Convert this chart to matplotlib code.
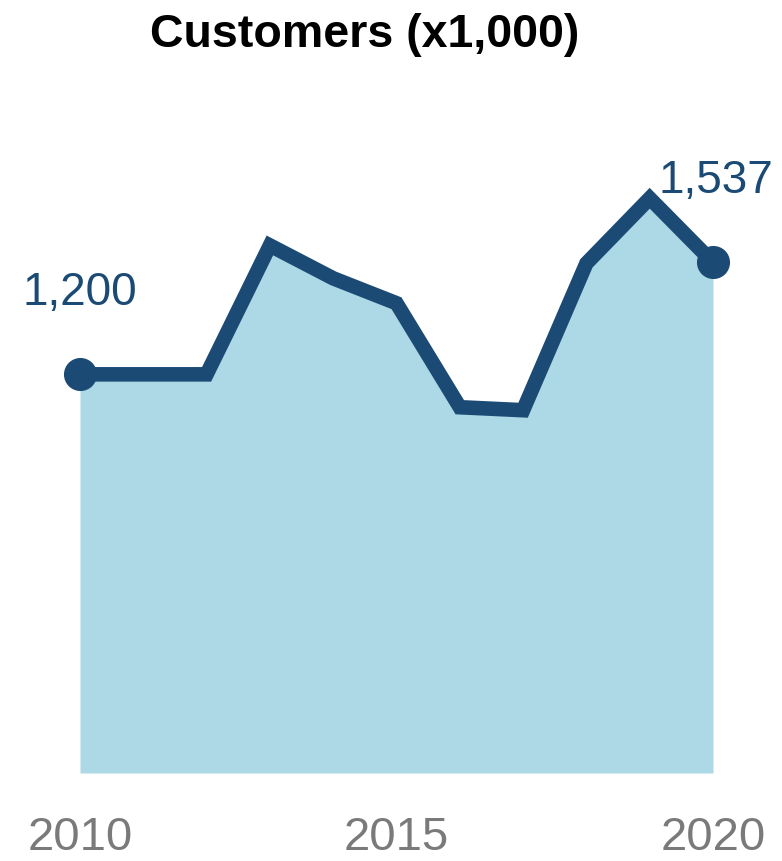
import matplotlib
matplotlib.use("Agg")
import matplotlib.pyplot as plt

# customers per year, in thousands
years = [2010, 2011, 2012, 2013, 2014, 2015, 2016, 2017, 2018, 2019, 2020]
customers = [1200, 1200, 1200, 1588, 1489, 1414, 1101, 1092, 1534, 1730, 1537]
tick_years = [2010, 2015, 2020]

line_color = "#1b4a75"
fill_color = "#add8e6"

plt.rcParams["font.family"] = ["Liberation Sans", "DejaVu Sans"]

fig = plt.figure(figsize=(7.82, 8.61), dpi=100)
ax = fig.add_axes([80 / 782, 88 / 861, 633 / 782, 598 / 861])

ax.fill_between(years, customers, 0, color=fill_color, linewidth=0)
ax.plot(years, customers, color=line_color, linewidth=10.5,
        solid_joinstyle="miter", solid_capstyle="butt", clip_on=False)

# dots on the first and last year
ends_x = [years[0], years[-1]]
ends_y = [customers[0], customers[-1]]
ax.scatter(ends_x, ends_y, s=520, color=line_color, zorder=3, clip_on=False)

ax.annotate(f"{customers[0]:,}", (years[0], customers[0]),
            xytext=(0, 69), textcoords="offset pixels",
            ha="center", va="baseline", fontsize=33, color=line_color)
ax.annotate(f"{customers[-1]:,}", (years[-1], customers[-1]),
            xytext=(3, 69), textcoords="offset pixels",
            ha="center", va="baseline", fontsize=33, color=line_color)

ax.set_xlim(years[0], years[-1])
ax.set_ylim(0, 1800)
ax.set_xticks(tick_years)
ax.set_xticklabels([str(y) for y in tick_years])
ax.tick_params(axis="x", length=0, pad=31, labelsize=34, labelcolor="#7a7a7a")
ax.set_yticks([])
for side in ax.spines.values():
    side.set_visible(False)

fig.text(365 / 782, 1 - 47 / 861, "Customers (x1,000)", ha="center", va="baseline",
         fontsize=33.5, fontweight="bold", color="black")

fig.savefig("out.png", dpi=100)
